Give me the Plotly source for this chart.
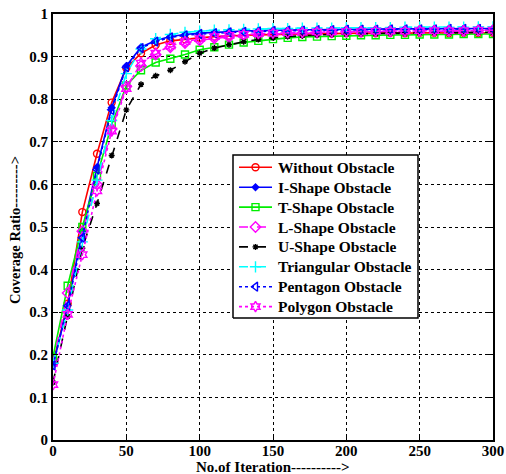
import plotly.graph_objects as go

iterations = list(range(0, 301, 10))

without_obstacle = [0.180, 0.320, 0.535, 0.672, 0.792, 0.873, 0.908, 0.927, 0.937, 0.941, 0.944,
                    0.947, 0.949, 0.950, 0.951, 0.952, 0.953, 0.953, 0.954, 0.954, 0.955,
                    0.955, 0.955, 0.956, 0.955, 0.956, 0.956, 0.955, 0.956, 0.955, 0.956]
i_shape = [0.175, 0.315, 0.490, 0.640, 0.780, 0.878, 0.922, 0.938, 0.947, 0.952, 0.955,
           0.957, 0.959, 0.960, 0.961, 0.962, 0.962, 0.963, 0.963, 0.964, 0.964,
           0.964, 0.965, 0.965, 0.965, 0.965, 0.966, 0.966, 0.966, 0.966, 0.966]
t_shape = [0.195, 0.362, 0.500, 0.620, 0.740, 0.832, 0.868, 0.886, 0.895, 0.905, 0.916,
           0.922, 0.928, 0.933, 0.937, 0.941, 0.944, 0.946, 0.947, 0.948, 0.949,
           0.950, 0.950, 0.951, 0.951, 0.952, 0.952, 0.952, 0.953, 0.953, 0.953]
l_shape = [0.180, 0.345, 0.490, 0.600, 0.730, 0.830, 0.878, 0.905, 0.922, 0.932, 0.938,
           0.943, 0.946, 0.949, 0.951, 0.953, 0.954, 0.955, 0.956, 0.957, 0.958,
           0.958, 0.959, 0.959, 0.959, 0.960, 0.960, 0.960, 0.960, 0.961, 0.961]
u_shape = [0.135, 0.290, 0.450, 0.555, 0.668, 0.775, 0.835, 0.855, 0.868, 0.888, 0.908,
           0.920, 0.928, 0.935, 0.940, 0.944, 0.947, 0.949, 0.951, 0.952, 0.953,
           0.954, 0.954, 0.955, 0.955, 0.956, 0.956, 0.956, 0.957, 0.957, 0.957]
triangular = [0.180, 0.305, 0.465, 0.610, 0.750, 0.860, 0.918, 0.942, 0.952, 0.957, 0.960,
              0.962, 0.963, 0.964, 0.965, 0.966, 0.966, 0.967, 0.967, 0.967, 0.968,
              0.968, 0.968, 0.968, 0.969, 0.969, 0.969, 0.969, 0.969, 0.970, 0.970]
pentagon = [0.175, 0.315, 0.475, 0.635, 0.775, 0.875, 0.920, 0.935, 0.945, 0.950, 0.953,
            0.955, 0.957, 0.958, 0.959, 0.960, 0.961, 0.961, 0.962, 0.962, 0.963,
            0.963, 0.963, 0.964, 0.964, 0.964, 0.964, 0.965, 0.965, 0.965, 0.965]
polygon = [0.130, 0.295, 0.435, 0.585, 0.725, 0.825, 0.885, 0.908, 0.925, 0.935, 0.942,
           0.947, 0.950, 0.952, 0.954, 0.955, 0.956, 0.957, 0.958, 0.958, 0.959,
           0.959, 0.960, 0.960, 0.960, 0.961, 0.961, 0.961, 0.961, 0.962, 0.962]

x_ticks = [0, 50, 100, 150, 200, 250, 300]
y_ticks = [0, 0.1, 0.2, 0.3, 0.4, 0.5, 0.6, 0.7, 0.8, 0.9, 1]
y_tick_labels = ["0", "0.1", "0.2", "0.3", "0.4", "0.5", "0.6", "0.7", "0.8", "0.9", "1"]

x_title = "No.of Iteration---------->"
y_title = "Coverage Ratio--------->"

series = [
    ("Without Obstacle", without_obstacle, "#ff0000", "solid", "circle-open", 7),
    ("I-Shape Obstacle", i_shape, "#0000ff", "solid", "diamond", 5),
    ("T-Shape Obstacle", t_shape, "#00ee00", "solid", "square-open", 7),
    ("L-Shape Obstacle", l_shape, "#ff00ff", "dash", "diamond-open", 8),
    ("U-Shape Obstacle", u_shape, "#000000", "dash", "asterisk-open", 5),
    ("Triangular Obstacle", triangular, "#00ffff", "dash", "cross-thin-open", 8),
    ("Pentagon Obstacle", pentagon, "#0000ff", "dot", "triangle-left-open", 8),
    ("Polygon Obstacle", polygon, "#ff00ff", "dot", "hexagram-open", 8),
]

serif = "Liberation Serif, Times New Roman, serif"

# canvas / plot-area geometry (pixels)
W, H = 506, 474
ML, MR, MT, MB = 53, 13, 14, 34
PW, PH = W - ML - MR, H - MT - MB


def px_x(px):
    return (px - ML) / PW


def px_y(py):
    return (H - MB - py) / PH


fig = go.Figure()
for name, values, color, dash, symbol, size in series:
    fig.add_trace(go.Scatter(
        x=iterations, y=values, name=name, mode="lines+markers",
        line=dict(color=color, width=1.6, dash=dash),
        marker=dict(symbol=symbol, size=size, color=color,
                    line=dict(color=color, width=1.4)),
        showlegend=False,
    ))

# legend drawn on an overlay axis pair spanning the plot area in [0, 1]
box_l, box_r, box_t, box_b = px_x(233), px_x(418), px_y(155), px_y(318)
fig.add_trace(go.Scatter(
    x=[box_l, box_r, box_r, box_l, box_l], y=[box_b, box_b, box_t, box_t, box_b],
    xaxis="x2", yaxis="y2", mode="lines", fill="toself", fillcolor="white",
    line=dict(color="black", width=1.5), showlegend=False, hoverinfo="skip",
))
row0, row_step = 167.3, 19.9
sample_l, sample_m, sample_r, text_x = px_x(239), px_x(255.5), px_x(272), px_x(276)
annotations = []
for i, (name, values, color, dash, symbol, size) in enumerate(series):
    yy = px_y(row0 + i * row_step)
    fig.add_trace(go.Scatter(
        x=[sample_l, sample_r], y=[yy, yy], xaxis="x2", yaxis="y2", mode="lines",
        line=dict(color=color, width=1.6, dash=dash), showlegend=False, hoverinfo="skip",
    ))
    fig.add_trace(go.Scatter(
        x=[sample_m], y=[yy], xaxis="x2", yaxis="y2", mode="markers",
        marker=dict(symbol=symbol, size=size, color=color, line=dict(color=color, width=1.4)),
        showlegend=False, hoverinfo="skip",
    ))
    annotations.append(dict(
        x=text_x, y=yy, xref="paper", yref="paper", xanchor="left", yanchor="middle",
        text=name, showarrow=False,
        font=dict(family=serif, size=15.5, color="black", weight="bold"),
    ))

annotations.append(dict(
    x=px_x(272), y=px_y(476), xref="paper", yref="paper", xanchor="center", yanchor="bottom",
    text=x_title, showarrow=False, borderpad=0,
    font=dict(family=serif, size=15, color="black", weight="bold"),
))
annotations.append(dict(
    x=px_x(15), y=px_y(230), xref="paper", yref="paper", xanchor="center", yanchor="middle",
    text=y_title, showarrow=False, textangle=-90,
    font=dict(family=serif, size=14.5, color="black", weight="bold"),
))

axis_common = dict(
    showline=True, linecolor="black", linewidth=2, mirror="ticks",
    ticks="inside", ticklen=5, tickcolor="black", tickwidth=1,
    showgrid=True, gridcolor="black", gridwidth=1, griddash="dot",
    zeroline=False, automargin=False,
    tickfont=dict(family=serif, size=15, color="black", weight="bold"),
)

fig.update_layout(
    width=W, height=H,
    margin=dict(l=ML, r=MR, t=MT, b=MB, autoexpand=False),
    paper_bgcolor="white", plot_bgcolor="white",
    showlegend=False,
    xaxis=dict(range=[0, 300], tickvals=x_ticks, ticklabelstandoff=-4, **axis_common),
    yaxis=dict(range=[0, 1], tickvals=y_ticks, ticktext=y_tick_labels, **axis_common),
    xaxis2=dict(overlaying="x", range=[0, 1], visible=False, fixedrange=True),
    yaxis2=dict(overlaying="y", range=[0, 1], visible=False, fixedrange=True),
    annotations=annotations,
)

fig.write_html("out.html")
